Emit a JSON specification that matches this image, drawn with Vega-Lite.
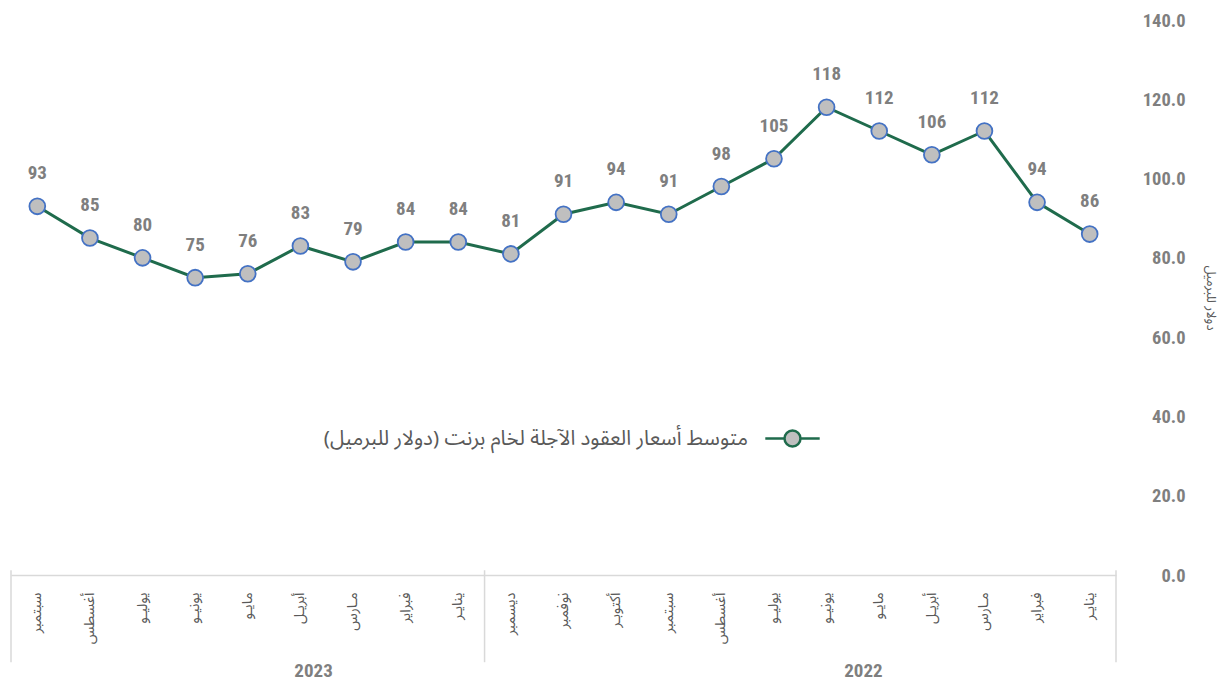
{
  "$schema": "https://vega.github.io/schema/vega-lite/v6.json",
  "width": 1105,
  "height": 555,
  "autosize": {"type": "none"},
  "padding": {"left": 11, "top": 20, "right": 116, "bottom": 109},
  "background": "white",
  "config": {"view": {"stroke": null}},
  "datasets": {
    "prices": [
      {"period": "سبتمبر|2023", "value": 93, "series": "متوسط أسعار العقود الآجلة لخام برنت (دولار للبرميل)"},
      {"period": "أغسطس|2023", "value": 85, "series": "متوسط أسعار العقود الآجلة لخام برنت (دولار للبرميل)"},
      {"period": "يوليـو|2023", "value": 80, "series": "متوسط أسعار العقود الآجلة لخام برنت (دولار للبرميل)"},
      {"period": "يونيـو|2023", "value": 75, "series": "متوسط أسعار العقود الآجلة لخام برنت (دولار للبرميل)"},
      {"period": "مايـو|2023", "value": 76, "series": "متوسط أسعار العقود الآجلة لخام برنت (دولار للبرميل)"},
      {"period": "أبريـل|2023", "value": 83, "series": "متوسط أسعار العقود الآجلة لخام برنت (دولار للبرميل)"},
      {"period": "مـارس|2023", "value": 79, "series": "متوسط أسعار العقود الآجلة لخام برنت (دولار للبرميل)"},
      {"period": "فبراير|2023", "value": 84, "series": "متوسط أسعار العقود الآجلة لخام برنت (دولار للبرميل)"},
      {"period": "ينايـر|2023", "value": 84, "series": "متوسط أسعار العقود الآجلة لخام برنت (دولار للبرميل)"},
      {"period": "ديسمبر|2022", "value": 81, "series": "متوسط أسعار العقود الآجلة لخام برنت (دولار للبرميل)"},
      {"period": "نوفمبر|2022", "value": 91, "series": "متوسط أسعار العقود الآجلة لخام برنت (دولار للبرميل)"},
      {"period": "أكتوبـر|2022", "value": 94, "series": "متوسط أسعار العقود الآجلة لخام برنت (دولار للبرميل)"},
      {"period": "سبتمبر|2022", "value": 91, "series": "متوسط أسعار العقود الآجلة لخام برنت (دولار للبرميل)"},
      {"period": "أغسطس|2022", "value": 98, "series": "متوسط أسعار العقود الآجلة لخام برنت (دولار للبرميل)"},
      {"period": "يوليـو|2022", "value": 105, "series": "متوسط أسعار العقود الآجلة لخام برنت (دولار للبرميل)"},
      {"period": "يونيـو|2022", "value": 118, "series": "متوسط أسعار العقود الآجلة لخام برنت (دولار للبرميل)"},
      {"period": "مايـو|2022", "value": 112, "series": "متوسط أسعار العقود الآجلة لخام برنت (دولار للبرميل)"},
      {"period": "أبريـل|2022", "value": 106, "series": "متوسط أسعار العقود الآجلة لخام برنت (دولار للبرميل)"},
      {"period": "مـارس|2022", "value": 112, "series": "متوسط أسعار العقود الآجلة لخام برنت (دولار للبرميل)"},
      {"period": "فبراير|2022", "value": 94, "series": "متوسط أسعار العقود الآجلة لخام برنت (دولار للبرميل)"},
      {"period": "ينايـر|2022", "value": 86, "series": "متوسط أسعار العقود الآجلة لخام برنت (دولار للبرميل)"}
    ],
    "sepStart": [
      {"period": "سبتمبر|2023"},
      {"period": "ديسمبر|2022"}
    ],
    "sepEnd": [
      {"period": "ينايـر|2022"}
    ],
    "year2023": [{"period": "أبريـل|2023", "year": "2023"}],
    "year2022": [{"period": "مايـو|2022", "year": "2022"}]
  },
  "layer": [
    {
      "data": {"name": "prices"},
      "mark": {"type": "line", "strokeWidth": 3},
      "encoding": {
        "x": {
          "field": "period",
          "type": "nominal",
          "scale": {
            "type": "band",
            "paddingInner": 0,
            "paddingOuter": 0,
            "domain": ["سبتمبر|2023","أغسطس|2023","يوليـو|2023","يونيـو|2023","مايـو|2023","أبريـل|2023","مـارس|2023","فبراير|2023","ينايـر|2023","ديسمبر|2022","نوفمبر|2022","أكتوبـر|2022","سبتمبر|2022","أغسطس|2022","يوليـو|2022","يونيـو|2022","مايـو|2022","أبريـل|2022","مـارس|2022","فبراير|2022","ينايـر|2022"]
          },
          "axis": {
            "title": null,
            "labelExpr": "split(datum.label, '|')[0]",
            "labelAngle": -90,
            "labelAlign": "right",
            "labelBaseline": "middle",
            "labelPadding": 17,
            "labelFont": "Noto Sans Arabic, DejaVu Sans, sans-serif",
            "labelFontSize": 14.5,
            "labelColor": "#595959",
            "ticks": false,
            "domainColor": "#D9D9D9",
            "domainWidth": 1.5,
            "grid": false
          }
        },
        "y": {
          "field": "value",
          "type": "quantitative",
          "scale": {"domain": [0, 140], "nice": false, "zero": true},
          "axis": {
            "orient": "right",
            "values": [0, 20, 40, 60, 80, 100, 120, 140],
            "format": ".1f",
            "title": "دولار للبرميل",
            "titleAngle": 90,
            "titleFont": "Noto Sans Arabic, DejaVu Sans, sans-serif",
            "titleFontSize": 13,
            "titleFontWeight": "normal",
            "titleColor": "#595959",
            "titlePadding": 18,
            "labelAlign": "right",
            "labelPadding": 69,
            "labelFont": "Roboto Condensed, Liberation Sans Narrow, DejaVu Sans Condensed, sans-serif",
            "labelFontSize": 18.5,
            "labelFontWeight": "bold",
            "labelColor": "#7F7F7F",
            "ticks": false,
            "domain": false,
            "grid": false
          }
        },
        "color": {
          "field": "series",
          "type": "nominal",
          "scale": {"range": ["#1F6B4C"]},
          "legend": {
            "title": null,
            "orient": "none",
            "legendX": 763,
            "legendY": 400,
            "padding": 0,
            "symbolType": "M-1.6,0L-0.47,0M0.47,0L1.6,0M-0.47,0A0.47,0.47 0 1 1 0.47,0A0.47,0.47 0 1 1 -0.47,0Z",
            "symbolSize": 1156,
            "symbolStrokeWidth": 2.5,
            "symbolFillColor": "#BFBFBF",
            "symbolStrokeColor": "#1F6B4C",
            "labelAlign": "right",
            "labelOffset": -63,
            "labelFont": "Noto Sans Arabic, DejaVu Sans, sans-serif",
            "labelFontSize": 20.5,
            "labelColor": "#595959",
            "labelLimit": 700
          }
        }
      }
    },
    {
      "data": {"name": "prices"},
      "mark": {"type": "point", "filled": true, "fill": "#BFBFBF", "stroke": "#4472C4", "strokeWidth": 1.8, "size": 250, "opacity": 1, "shape": "circle"},
      "encoding": {
        "x": {"field": "period", "type": "nominal", "bandPosition": 0.5},
        "y": {"field": "value", "type": "quantitative"}
      }
    },
    {
      "data": {"name": "prices"},
      "mark": {"type": "text", "dy": -33, "font": "Roboto Condensed, Liberation Sans Narrow, DejaVu Sans Condensed, sans-serif", "fontSize": 19, "fontWeight": "bold", "color": "#7F7F7F"},
      "encoding": {
        "x": {"field": "period", "type": "nominal", "bandPosition": 0.5},
        "y": {"field": "value", "type": "quantitative"},
        "text": {"field": "value", "type": "quantitative", "format": ".0f"}
      }
    },
    {
      "data": {"name": "sepStart"},
      "mark": {"type": "rule", "color": "#D9D9D9", "strokeWidth": 1.5, "clip": false},
      "encoding": {
        "x": {"field": "period", "type": "nominal", "bandPosition": 0},
        "y": {"datum": 1.2},
        "y2": {"datum": -22}
      }
    },
    {
      "data": {"name": "sepEnd"},
      "mark": {"type": "rule", "color": "#D9D9D9", "strokeWidth": 1.5, "clip": false},
      "encoding": {
        "x": {"field": "period", "type": "nominal", "bandPosition": 1},
        "y": {"datum": 1.2},
        "y2": {"datum": -22}
      }
    },
    {
      "data": {"name": "year2023"},
      "mark": {"type": "text", "font": "Roboto Condensed, Liberation Sans Narrow, DejaVu Sans Condensed, sans-serif", "fontSize": 19, "fontWeight": "bold", "color": "#7F7F7F", "clip": false},
      "encoding": {
        "x": {"field": "period", "type": "nominal", "bandPosition": 0.75},
        "y": {"datum": -24.3},
        "text": {"field": "year", "type": "nominal"}
      }
    },
    {
      "data": {"name": "year2022"},
      "mark": {"type": "text", "font": "Roboto Condensed, Liberation Sans Narrow, DejaVu Sans Condensed, sans-serif", "fontSize": 19, "fontWeight": "bold", "color": "#7F7F7F", "clip": false},
      "encoding": {
        "x": {"field": "period", "type": "nominal", "bandPosition": 0.2},
        "y": {"datum": -24.3},
        "text": {"field": "year", "type": "nominal"}
      }
    }
  ]
}
